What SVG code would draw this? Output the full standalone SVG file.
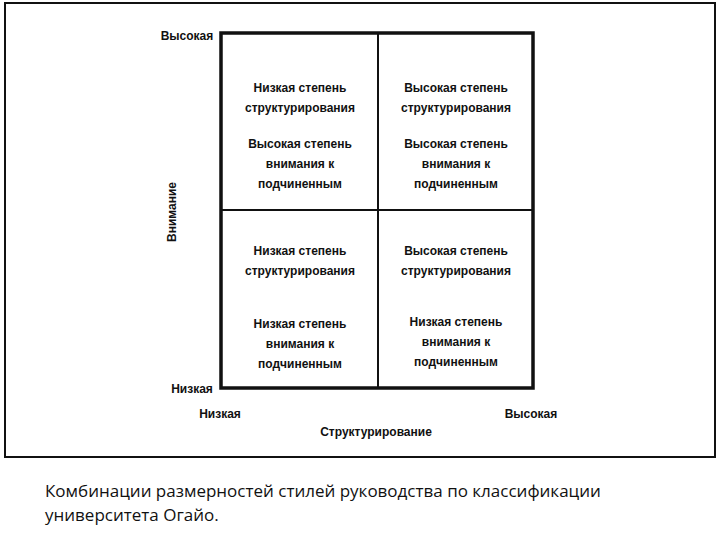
<svg xmlns="http://www.w3.org/2000/svg" width="720" height="540" viewBox="0 0 720 540">
<style>
.t{font-family:"Liberation Sans",Arial,sans-serif;font-weight:bold;font-size:12px;fill:#111;text-anchor:middle}
.c{font-family:"Open Sans","Liberation Sans",sans-serif;font-size:17px;fill:#111}
</style>
<rect width="720" height="540" fill="#fff"/>
<rect x="5" y="3" width="710" height="454" fill="none" stroke="#111" stroke-width="2"/>
<g id="grid" fill="none" stroke="#111">
<rect x="221" y="33" width="312" height="355" stroke-width="3.5"/>
<line x1="378" y1="33" x2="378" y2="388" stroke-width="2"/>
<line x1="221" y1="210" x2="533" y2="210" stroke-width="2"/>
</g>
<g id="q1" class="t"><text x="300" y="92" class="t">Низкая степень</text><text x="300" y="112" class="t">структурирования</text><text x="300" y="148" class="t">Высокая степень</text><text x="300" y="168" class="t">внимания к</text><text x="300" y="188" class="t">подчиненным</text></g>
<g id="q2"><text x="456" y="92" class="t">Высокая степень</text><text x="456" y="112" class="t">структурирования</text><text x="456" y="148" class="t">Высокая степень</text><text x="456" y="168" class="t">внимания к</text><text x="456" y="188" class="t">подчиненным</text></g>
<g id="q3"><text x="300" y="255" class="t">Низкая степень</text><text x="300" y="275" class="t">структурирования</text><text x="300" y="328" class="t">Низкая степень</text><text x="300" y="348" class="t">внимания к</text><text x="300" y="368" class="t">подчиненным</text></g>
<g id="q4"><text x="456" y="255" class="t">Высокая степень</text><text x="456" y="275" class="t">структурирования</text><text x="456" y="326" class="t">Низкая степень</text><text x="456" y="346" class="t">внимания к</text><text x="456" y="366" class="t">подчиненным</text></g>
<g id="axes">
<text x="187" y="40" class="t">Высокая</text>
<text x="192" y="393" class="t">Низкая</text>
<text x="220" y="418" class="t">Низкая</text>
<text x="531" y="418" class="t">Высокая</text>
<text x="376" y="436" class="t">Структурирование</text>
<text transform="translate(176,212) rotate(-90)" class="t">Внимание</text>
</g>
<text x="45" y="497" class="c">Комбинации размерностей стилей руководства по классификации</text>
<text x="45" y="521" class="c">университета Огайо.</text>
</svg>
